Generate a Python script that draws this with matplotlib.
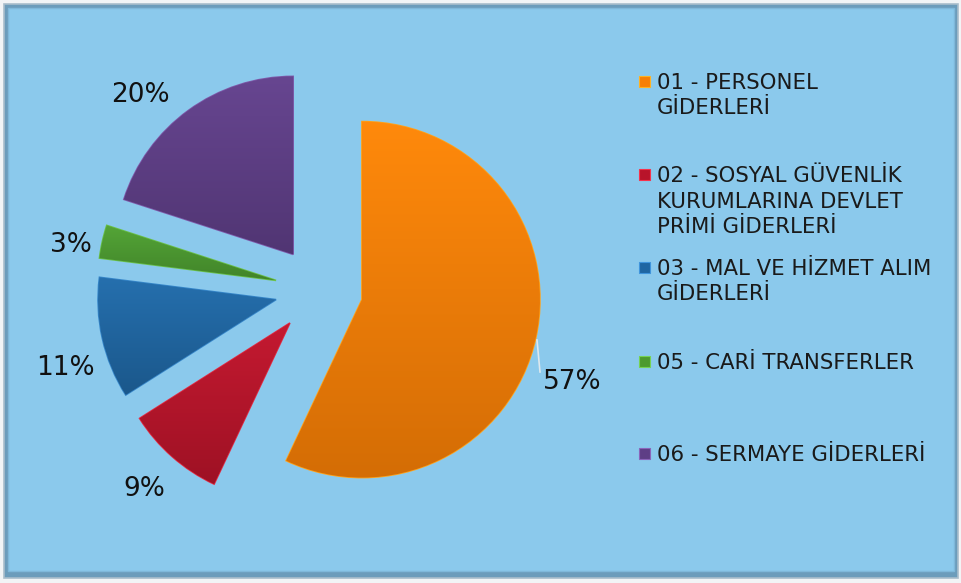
import numpy as np
import matplotlib
matplotlib.use("Agg")
import matplotlib.pyplot as plt
from matplotlib.patches import Rectangle
from matplotlib.colors import to_rgb

# ---- data ----
categories = [
    "01 - PERSONEL\nGİDERLERİ",
    "02 - SOSYAL GÜVENLİK\nKURUMLARINA DEVLET\nPRİMİ GİDERLERİ",
    "03 - MAL VE HİZMET ALIM\nGİDERLERİ",
    "05 - CARİ TRANSFERLER",
    "06 - SERMAYE GİDERLERİ",
]
values = [57, 9, 11, 3, 20]
colors = ["#F77F06", "#B8142A", "#1F66A2", "#4C9A30", "#5E3E86"]

W, H = 962, 583
fig = plt.figure(figsize=(W / 100, H / 100), dpi=100)
fig.patch.set_facecolor("#F2F4F6")
ax = fig.add_axes([0, 0, 1, 1])


def iy(y):
    return H - y


# background frame
ax.add_patch(Rectangle((4, iy(578)), 954, 574, facecolor="#6C9CBB", edgecolor="#A9BDCB", lw=1.2, zorder=0))
ax.add_patch(Rectangle((8, iy(571)), 946, 563, facecolor="#8BC9EC", edgecolor="#7FB8DA", lw=1.0, zorder=0.5))

# pie
center = (319, iy(290))
radius = 178
wedges, _ = ax.pie(values, colors=colors, startangle=90, counterclock=False,
                   center=center, radius=radius, explode=[44] * len(values),
                   wedgeprops=dict(linewidth=1.2), frame=True)

# gradient shading for a bevel-like look
for w, c in zip(wedges, colors):
    rgb = np.array(to_rgb(c))
    w.set_edgecolor(tuple(np.clip(rgb * 1.12 + 0.08, 0, 1)))
    w.set_zorder(2)
    bb = w.get_path().get_extents(w.get_patch_transform())
    n = 64
    t = np.linspace(0, 1, n)[:, None]
    top = np.clip(rgb * 1.04 + 0.02, 0, 1)
    bot = rgb * 0.86
    grad = (top[None, :] * (1 - t) + bot[None, :] * t)[:, None, :]
    grad = np.repeat(grad, 2, axis=1)
    im = ax.imshow(grad, extent=(bb.x0, bb.x1, bb.y0, bb.y1), origin="upper",
                   aspect="auto", zorder=2.5, interpolation="bilinear")
    im.set_clip_path(w)

# percentage labels
label_pos = [(572, 382), (144, 489), (65, 368), (71, 245), (140, 95)]
for v, (x, y) in zip(values, label_pos):
    ax.text(x, iy(y), f"{v}%", ha="center", va="center", fontsize=19,
            color="#111111", zorder=5)
# leader line for the big slice
ax.plot([537, 540], [iy(340), iy(372)], color="#DDE8EE", lw=1.2, zorder=4)

# legend (manual)
legend_baselines = [89, 182, 275, 369, 461]
line_step = 25.5
for cat, c, yb in zip(categories, colors, legend_baselines):
    rgb = np.array(to_rgb(c))
    ax.add_patch(Rectangle((639, iy(yb - 2)), 11, 11, facecolor=c,
                           edgecolor=tuple(np.clip(rgb * 1.2 + 0.1, 0, 1)), lw=0.8, zorder=5))
    for k, line in enumerate(cat.split("\n")):
        ax.text(657, iy(yb + k * line_step), line, ha="left", va="baseline",
                fontsize=15.3, color="#1A1A1A", zorder=5)

ax.set_xlim(0, W)
ax.set_ylim(0, H)
ax.set_aspect("auto")
ax.axis("off")

fig.savefig("out.png", dpi=100, facecolor=fig.get_facecolor())
